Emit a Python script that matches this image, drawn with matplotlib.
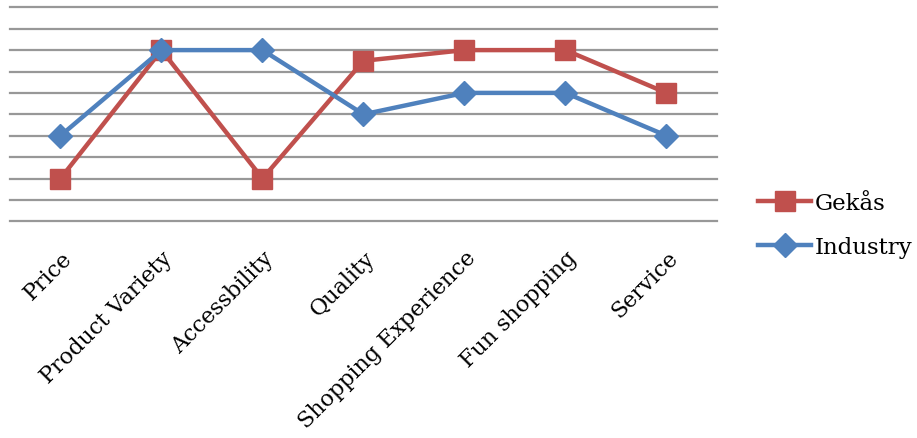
import matplotlib.pyplot as plt
from matplotlib.lines import Line2D

categories = ["Price", "Product Variety", "Accessbility", "Quality",
              "Shopping Experience", "Fun shopping", "Service"]
gekas = [2, 8, 2, 7.5, 8, 8, 6]
industry = [4, 8, 8, 5, 6, 6, 4]

red = "#C0504D"
blue = "#4F81BD"

plt.rcParams['font.family'] = ['DejaVu Serif']

fig = plt.figure(figsize=(9.17, 4.39), dpi=100)
ax = fig.add_axes([10 / 917, 1 - 222.3 / 439, 707 / 917, (222.3 - 8.3) / 439])

x = list(range(len(categories)))
ax.plot(x, gekas, color=red, lw=3.2, marker='s', ms=14, label="Gekås", zorder=3)
ax.plot(x, industry, color=blue, lw=3.2, marker='D', ms=12, label="Industry", zorder=4)

ax.set_xlim(-0.5, len(categories) - 0.5)
ax.set_ylim(0, 10)
ax.set_yticks(range(0, 11))
ax.yaxis.grid(True, color="#989898", lw=1.6)
for gl in ax.yaxis.get_gridlines():
    gl.set_clip_on(False)
ax.set_axisbelow(True)
ax.tick_params(axis='y', left=False, labelleft=False)
ax.tick_params(axis='x', length=0, pad=18)
ax.set_xticks(x)
ax.set_xticklabels(categories, rotation=45, ha='right', va='top',
                   rotation_mode='anchor', fontsize=16)
for s in ax.spines.values():
    s.set_visible(False)

handles = [Line2D([], [], color=red, lw=3.2, marker='s', ms=14),
           Line2D([], [], color=blue, lw=3.2, marker='D', ms=12)]
fig.legend(handles, ["Gekås", "Industry"], loc='center left',
           bbox_to_anchor=(737 / 917, 1 - 226 / 439), frameon=False,
           fontsize=16.5, handlelength=2.35, handletextpad=0.15, labelspacing=0.95)

fig.savefig("out.png", dpi=100)
